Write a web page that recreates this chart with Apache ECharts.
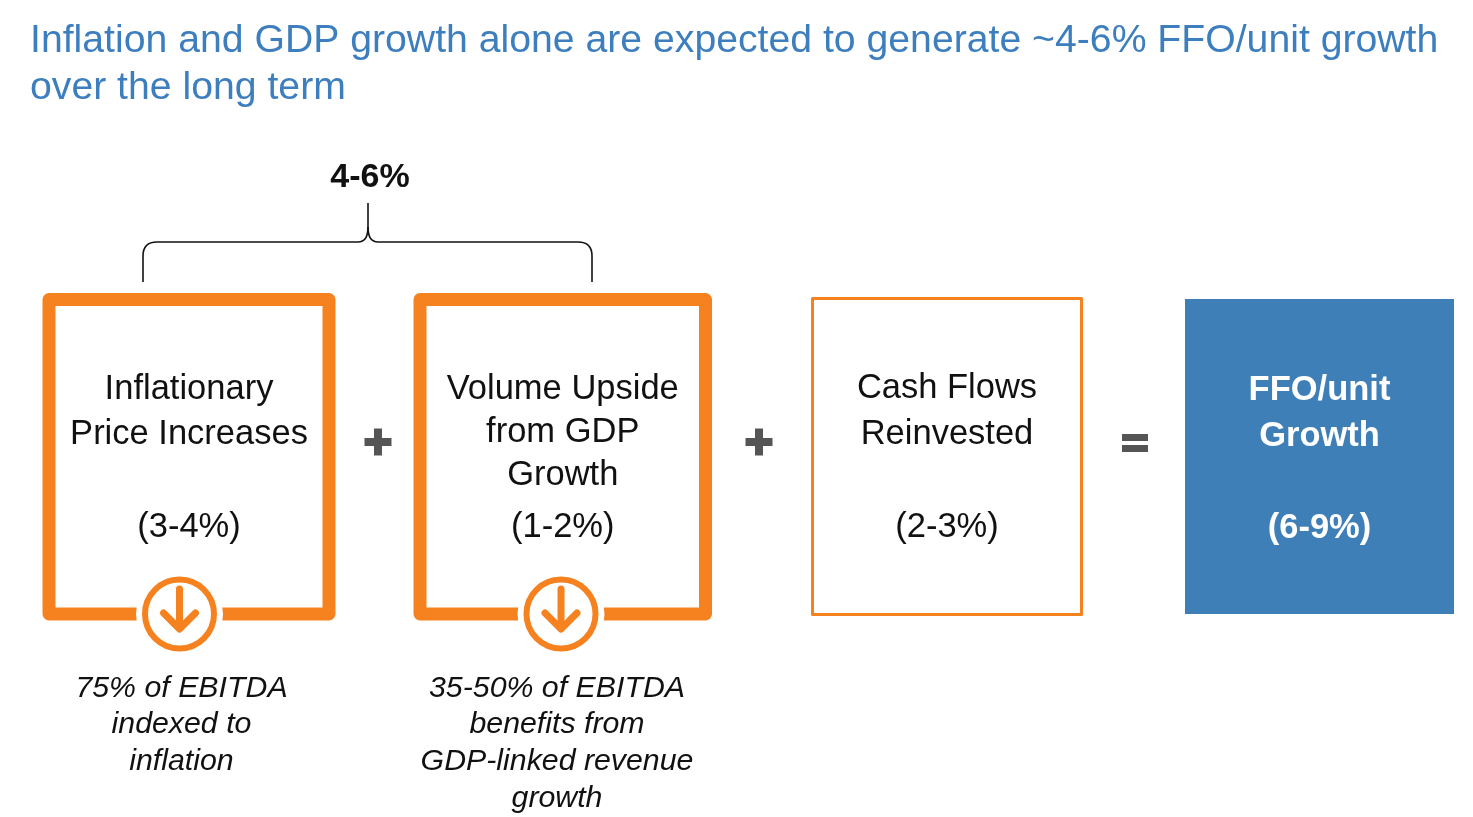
<!DOCTYPE html>
<html><head><meta charset="utf-8">
<script src="https://cdn.jsdelivr.net/npm/echarts@6/dist/echarts.min.js"></script>
<style>html,body{margin:0;padding:0;background:#fff}#c{width:1473px;height:817px}</style>
</head><body><div id="c"></div>
<script>
// ---- content (data) ----
const titleLines = ['Inflation and GDP growth alone are expected to generate ~4-6% FFO/unit growth', 'over the long term'];
const boxLabels = [['Inflationary', 'Price Increases'], ['Volume Upside', 'from GDP', 'Growth'], ['Cash Flows', 'Reinvested'], ['FFO/unit', 'Growth']];
const boxRanges = ['(3-4%)', '(1-2%)', '(2-3%)', '(6-9%)'];
const operators = ['+', '+', '='];
const bracketLabel = '4-6%';
const notes = [['75% of EBITDA', 'indexed to', 'inflation'], ['35-50% of EBITDA', 'benefits from', 'GDP-linked revenue', 'growth']];

// ---- layout & style ----
const FONT = '"Liberation Sans", Arial, sans-serif';
const ORANGE = '#F5821F', BLUE = '#3F7FB7', TITLE_BLUE = '#3D7EBF', OP = '#555555';
const boxGeom = [
  {x: 49, y: 299.5, w: 280, h: 314.5, kind: 'thick', lines: [399, 444], range: 537},
  {x: 420, y: 299.5, w: 285.5, h: 314.5, kind: 'thick', lines: [399, 442, 485], range: 537},
  {x: 812.5, y: 298.5, w: 269, h: 316, kind: 'thin', lines: [398, 444], range: 537},
  {x: 1185, y: 299, w: 269, h: 315, kind: 'fill', lines: [400, 446], range: 538}
];
const opPos = [[378, 442], [759, 442], [1135, 443]];
const noteGeom = [{cx: 181.5, icon: 179.5}, {cx: 557, icon: 561}];
const noteBaselines = [697, 733, 770, 807];
const iconY = 614;

function txt(x, baseline, text, size, opts) {
  opts = opts || {};
  return {
    type: 'text', z: 10,
    style: {
      x: x, y: baseline - 0.28 * size, text: text,
      fill: opts.fill || '#111',
      font: (opts.italic ? 'italic ' : '') + (opts.bold ? 'bold ' : '') + size + 'px ' + FONT,
      textAlign: opts.align || 'center', textVerticalAlign: 'middle'
    }
  };
}

const g = [];
// title
titleLines.forEach((t, i) => g.push(txt(30, [52, 99][i], t, 39.2, {fill: TITLE_BLUE, align: 'left'})));

// boxes
boxGeom.forEach((b, i) => {
  if (b.kind === 'thick') {
    g.push({type: 'rect', z: 1, shape: {x: b.x, y: b.y, width: b.w, height: b.h},
      style: {fill: 'none', stroke: ORANGE, lineWidth: 13, lineJoin: 'round'}});
  } else if (b.kind === 'thin') {
    g.push({type: 'rect', z: 1, shape: {x: b.x, y: b.y, width: b.w, height: b.h},
      style: {fill: 'none', stroke: ORANGE, lineWidth: 3, lineJoin: 'round'}});
  } else {
    g.push({type: 'rect', z: 1, shape: {x: b.x, y: b.y, width: b.w, height: b.h},
      style: {fill: BLUE}});
  }
  const cx = b.x + b.w / 2;
  const white = b.kind === 'fill';
  boxLabels[i].forEach((l, j) => g.push(txt(cx, b.lines[j], l, 34.5, {fill: white ? '#fff' : '#111', bold: white})));
  g.push(txt(cx, b.range, boxRanges[i], 34.5, {fill: white ? '#fff' : '#111', bold: white}));
});

// operators
operators.forEach((op, i) => {
  const [cx, cy] = opPos[i];
  if (op === '+') {
    g.push({type: 'rect', z: 5, shape: {x: cx - 13.5, y: cy - 4, width: 27, height: 8}, style: {fill: OP}});
    g.push({type: 'rect', z: 5, shape: {x: cx - 4, y: cy - 13.5, width: 8, height: 27}, style: {fill: OP}});
  } else {
    g.push({type: 'rect', z: 5, shape: {x: cx - 13, y: cy - 9, width: 26, height: 7}, style: {fill: OP}});
    g.push({type: 'rect', z: 5, shape: {x: cx - 13, y: cy + 2, width: 26, height: 7}, style: {fill: OP}});
  }
});

// bracket (lines + quadratic curves)
const BR = {stroke: '#111', lineWidth: 1.6, fill: 'none'};
function seg(x1, y1, x2, y2) { g.push({type: 'line', z: 5, shape: {x1, y1, x2, y2}, style: BR}); }
function curve(x1, y1, cx, cy, x2, y2) { g.push({type: 'bezierCurve', z: 5, shape: {x1, y1, x2, y2, cpx1: cx, cpy1: cy}, style: BR}); }
seg(143, 282, 143, 256); curve(143, 256, 143, 242, 157, 242); seg(157, 242, 358, 242);
curve(358, 242, 368, 242, 368, 227); seg(368, 227, 368, 203);
curve(368, 227, 368, 242, 378, 242); seg(378, 242, 578, 242);
curve(578, 242, 592, 242, 592, 256); seg(592, 256, 592, 282);
g.push(txt(370, 187, bracketLabel, 34, {bold: true}));

// icons + notes
noteGeom.forEach((n, i) => {
  const cx = n.icon;
  g.push({type: 'circle', z: 6, shape: {cx: cx, cy: iconY, r: 43.5}, style: {fill: '#fff'}});
  g.push({type: 'circle', z: 7, shape: {cx: cx, cy: iconY, r: 34.5}, style: {fill: '#fff', stroke: ORANGE, lineWidth: 6}});
  g.push({type: 'polyline', z: 8, shape: {points: [[cx, iconY - 25], [cx, iconY + 14]]},
    style: {stroke: ORANGE, lineWidth: 7, lineCap: 'round'}});
  g.push({type: 'polyline', z: 8, shape: {points: [[cx - 16, iconY - 1], [cx, iconY + 15], [cx + 16, iconY - 1]]},
    style: {fill: 'none', stroke: ORANGE, lineWidth: 7, lineCap: 'round', lineJoin: 'round'}});
  notes[i].forEach((l, j) => g.push(txt(n.cx, noteBaselines[j], l, 30.3, {italic: true})));
});

const chart = echarts.init(document.getElementById('c'), null, {renderer: 'canvas'});
chart.setOption({backgroundColor: '#fff', animation: false, graphic: {elements: g}});
</script></body></html>
